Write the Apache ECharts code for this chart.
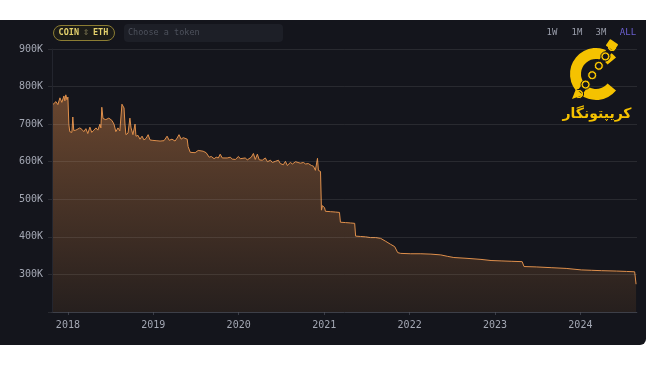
<!DOCTYPE html>
<html>
<head>
<meta charset="utf-8">
<script src="https://cdn.jsdelivr.net/npm/echarts@6/dist/echarts.min.js"></script>
<style>
html,body{margin:0;padding:0;background:#ffffff;width:650px;height:365px;overflow:hidden;}
#panel{position:absolute;left:0;top:20px;width:646px;height:325px;background:#14151c;border-radius:0 0 6px 0;}
#chart{position:absolute;left:0;top:0;width:650px;height:365px;}
</style>
</head>
<body>
<div id="panel"></div>
<div id="chart"></div>
<script>
// ---- data (ETH held, thousands) ----
const dates = [
'2017-10-25','2017-11-02','2017-11-11','2017-11-19','2017-11-28','2017-12-06','2017-12-15','2017-12-19','2017-12-23','2017-12-28',
'2018-01-01','2018-01-05','2018-01-09','2018-01-18','2018-01-22','2018-01-26','2018-02-04','2018-02-12','2018-02-21','2018-03-02',
'2018-03-10','2018-03-19','2018-03-27','2018-04-05','2018-04-13','2018-04-22','2018-05-01','2018-05-09','2018-05-18','2018-05-22',
'2018-05-26','2018-05-31','2018-06-12','2018-06-25','2018-07-08','2018-07-17','2018-07-25','2018-08-03','2018-08-11','2018-08-20',
'2018-08-29','2018-09-02','2018-09-06','2018-09-15','2018-09-23','2018-09-28','2018-10-06','2018-10-15','2018-10-19','2018-10-28',
'2018-11-05','2018-11-14','2018-11-22','2018-12-01','2018-12-10','2018-12-18','2018-12-27','2019-01-13','2019-01-30','2019-02-16',
'2019-03-01','2019-03-10','2019-03-22','2019-04-04','2019-04-13','2019-04-21','2019-04-30','2019-05-09','2019-05-17','2019-05-26',
'2019-05-30','2019-06-08','2019-06-16','2019-06-29','2019-07-12','2019-07-20','2019-08-02','2019-08-15','2019-08-28','2019-09-06',
'2019-09-18','2019-09-27','2019-10-06','2019-10-14','2019-10-23','2019-10-31','2019-11-13','2019-11-26','2019-12-05','2019-12-18',
'2019-12-31','2020-01-08','2020-01-16','2020-01-29','2020-02-07','2020-02-15','2020-02-24','2020-03-04','2020-03-12','2020-03-21',
'2020-03-29','2020-04-11','2020-04-24','2020-05-03','2020-05-16','2020-05-24','2020-06-06','2020-06-19','2020-06-27','2020-07-10',
'2020-07-19','2020-07-27','2020-08-09','2020-08-18','2020-08-31','2020-09-08','2020-09-21','2020-10-04','2020-10-13','2020-10-25',
'2020-11-07','2020-11-16','2020-11-24','2020-12-03','2020-12-07','2020-12-16','2020-12-20','2020-12-24','2021-01-02','2021-01-06',
'2021-01-28','2021-02-18','2021-03-07','2021-03-11','2021-04-02','2021-04-23','2021-05-11','2021-05-15','2021-06-05','2021-06-27',
'2021-07-18','2021-08-09','2021-08-30','2021-09-21','2021-10-12','2021-10-29','2021-11-11','2021-11-24','2022-01-06','2022-02-18',
'2022-04-02','2022-05-14','2022-06-13','2022-07-09','2022-08-30','2022-11-02','2022-12-15','2023-01-27','2023-03-11','2023-04-27',
'2023-05-05','2023-06-26','2023-08-29','2023-11-01','2024-01-05','2024-02-17','2024-03-31','2024-06-03','2024-07-16','2024-08-20',
'2024-08-26'
];
const ethHeldK = [
750,745,760,752,770,758,775,762,778,765,
772,700,680,678,719,683,684,680,690,686,
680,688,675,692,678,684,690,684,700,690,
745,715,712,716,710,700,680,690,682,753,
743,700,672,676,716,690,672,700,668,670,
660,668,658,662,672,658,657,656,655,656,
668,657,660,655,663,672,660,664,668,660,
640,625,628,624,630,633,628,624,612,614,
608,612,610,620,610,608,610,612,607,606,
614,608,606,610,605,608,612,622,606,620,
605,604,610,600,604,598,601,604,595,592,
601,590,598,594,600,596,596,598,594,595,
590,588,577,609,577,574,471,483,478,468,
467,466,465,439,438,437,436,402,401,400,
398,398,396,388,380,374,358,356,355,355,
354,352,348,345,343,340,337,336,335,334,
321,320,318,316,312,311,310,309,308,307,
274
];
const yTicksK = [200,300,400,500,600,700,800,900];
const yearLabels = ['2018','2019','2020','2021','2022','2023','2024'];
const timeButtons = ['1W','1M','3M','ALL'];

const seriesData = dates.map((d,i)=>[d, ethHeldK[i]*1000]);

const chart = echarts.init(document.getElementById('chart'), null, {renderer:'canvas'});
const mono = 'DejaVu Sans Mono';
const Y = '#f5c200';

// chain links for logo
const chainLinks = [];
const p0=[612,47], p1=[579,94];
for(let i=0;i<6;i++){
  const t=i/5;
  chainLinks.push({type:'ring', shape:{cx:p0[0]+(p1[0]-p0[0])*t, cy:p0[1]+(p1[1]-p0[1])*t, r:4.6, r0:2.2},
    style:{fill:Y, stroke:'#14151c', lineWidth:1}, z:102});
}

chart.setOption({
  backgroundColor:'transparent',
  animation:false,
  grid:{left:52, right:13, top:49, bottom:53},
  xAxis:{
    type:'time',
    min:'2017-10-25', max:'2024-08-30',
    splitNumber:7,
    axisLine:{show:true, lineStyle:{color:'#2a2c36'}},
    axisTick:{show:true, length:3, lineStyle:{color:'#3a3c46'}},
    splitLine:{show:false},
    axisLabel:{color:'#a3a7b3', fontFamily:mono, fontSize:10, margin:8,
      formatter:(v)=>{const y=String(new Date(v).getFullYear()); return yearLabels.includes(y)?y:'';}}
  },
  yAxis:{
    type:'value',
    min:yTicksK[0]*1000, max:yTicksK[yTicksK.length-1]*1000, interval:100000,
    z:5,
    axisLine:{show:true, lineStyle:{color:'#23252e'}},
    axisTick:{show:true, length:4, lineStyle:{color:'rgba(255,255,255,0.09)'}},
    splitLine:{show:true, lineStyle:{color:'rgba(255,255,255,0.09)', width:1}},
    axisLabel:{color:'#a3a7b3', fontFamily:mono, fontSize:10, margin:9,
      formatter:(v)=>{const k=v/1000; return (k===yTicksK[0])?'':k+'K';}}
  },
  series:[{
    type:'line',
    data:seriesData,
    showSymbol:false,
    lineStyle:{color:'#e0904c', width:1},
    areaStyle:{color:new echarts.graphic.LinearGradient(0,0,0,1,[
      {offset:0,color:'#8e5c38'},{offset:1,color:'#2e241f'}])},
    z:2
  }],
  graphic:[
    // token pill
    {type:'rect', shape:{x:53.5,y:25.5,width:61,height:15,r:8}, style:{fill:'#1c1c18', stroke:'#8c7d33', lineWidth:1}, z:100},
    {type:'text', x:79, y:33, style:{text:'COIN', fill:'#e3d06c', font:'bold 8.5px "DejaVu Sans Mono"', align:'right', verticalAlign:'middle'}, z:101},
    {type:'text', x:86, y:33, style:{text:'⇕', fill:'#7a7450', font:'8px "DejaVu Sans"', align:'center', verticalAlign:'middle'}, z:101},
    {type:'text', x:93, y:33, style:{text:'ETH', fill:'#e3d06c', font:'bold 8.5px "DejaVu Sans Mono"', align:'left', verticalAlign:'middle'}, z:101},
    // search box
    {type:'rect', shape:{x:124,y:24,width:159,height:18,r:4}, style:{fill:'#1d1f27'}, z:100},
    {type:'text', x:128, y:33, style:{text:'Choose a token', fill:'#4d515c', font:'8.5px "DejaVu Sans Mono"', verticalAlign:'middle'}, z:101},
    // range buttons
    {type:'text', x:552, y:33, style:{text:timeButtons[0], fill:'#9a9eab', font:'9px "DejaVu Sans Mono"', align:'center', verticalAlign:'middle'}, z:101},
    {type:'text', x:577, y:33, style:{text:timeButtons[1], fill:'#9a9eab', font:'9px "DejaVu Sans Mono"', align:'center', verticalAlign:'middle'}, z:101},
    {type:'text', x:601, y:33, style:{text:timeButtons[2], fill:'#9a9eab', font:'9px "DejaVu Sans Mono"', align:'center', verticalAlign:'middle'}, z:101},
    {type:'text', x:628, y:33, style:{text:timeButtons[3], fill:'#6b5fd0', font:'9px "DejaVu Sans Mono"', align:'center', verticalAlign:'middle'}, z:101},
    // logo C
    {type:'sector', shape:{cx:596, cy:74, r0:15, r:26, startAngle:Math.PI*0.22, endAngle:Math.PI*1.78, clockwise:true}, style:{fill:Y}, z:101},
    {type:'line', shape:{x1:p0[0],y1:p0[1],x2:p1[0],y2:p1[1]}, style:{stroke:'#14151c', lineWidth:6}, z:101},
    ...chainLinks,
    {type:'rect', shape:{x:607,y:41,width:10,height:8,r:1}, rotation:-0.6, originX:612, originY:45, style:{fill:Y}, z:103},
    {type:'polygon', shape:{points:[[572,99],[576,89],[583,95]]}, style:{fill:Y}, z:103},
    {type:'text', x:597, y:114, style:{text:'کریپتونگار', fill:Y, font:'bold 14px "DejaVu Sans"', align:'center', verticalAlign:'middle'}, z:101}
  ]
});
</script>
</body>
</html>
